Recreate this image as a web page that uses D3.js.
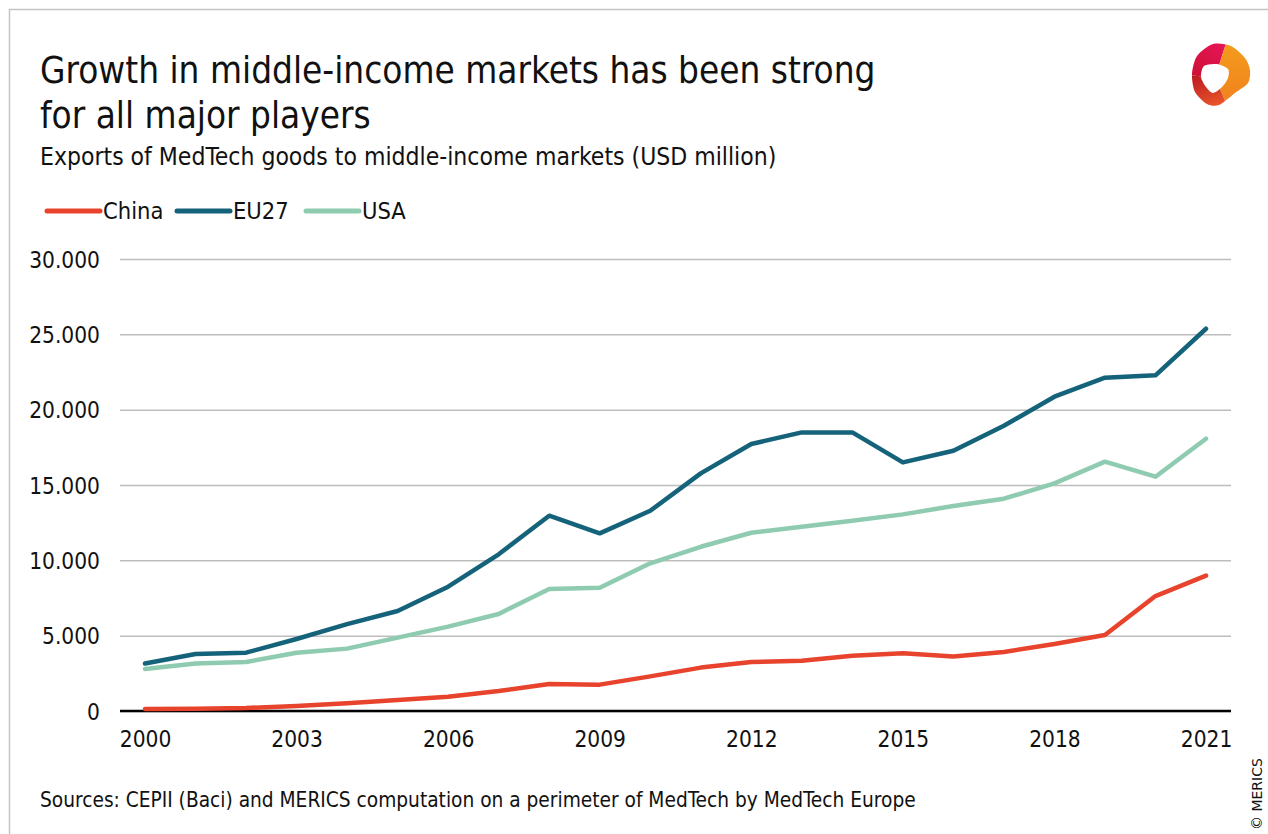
<!DOCTYPE html>
<html><head><meta charset="utf-8">
<script src="https://cdn.jsdelivr.net/npm/d3@7"></script>
<style>
html,body{margin:0;padding:0;background:#fff;}
svg{display:block;}
text{font-family:"Liberation Sans Narrow","DejaVu Sans Condensed","DejaVu Sans",sans-serif;fill:#111;}
</style></head>
<body>
<script>
const years = d3.range(2000, 2022);
const china = [130,150,200,330,510,730,950,1330,1790,1750,2300,2880,3250,3340,3670,3830,3610,3920,4450,5040,7630,8980];
const eu27  = [3150,3780,3870,4780,5770,6640,8250,10400,12960,11790,13290,15770,17720,18490,18490,16500,17270,18930,20860,22120,22280,25370];
const usa   = [2790,3160,3250,3870,4140,4870,5600,6440,8100,8180,9800,10900,11830,12230,12630,13050,13600,14090,15110,16550,15550,18070];
const seriesNames = ["China","EU27","USA"];
const seriesColors = ["#e8432d","#15637a","#8ecbb0"];
const xTicks = [2000,2003,2006,2009,2012,2015,2018,2021];
const yTicks = [0,5000,10000,15000,20000,25000,30000];

const W = 1268, H = 834;
const svg = d3.select("body").append("svg").attr("width", W).attr("height", H);
const defs = svg.append("defs");

// frame
svg.append("path").attr("d", `M9.5,${H} L9.5,9.5 L${W},9.5`).attr("fill","none").attr("stroke","#c4c4c4").attr("stroke-width",1.5);

// titles
svg.append("text").attr("x",40).attr("y",83).style("font-size","36.6px").text("Growth in middle-income markets has been strong");
svg.append("text").attr("x",40).attr("y",128).style("font-size","36.6px").text("for all major players");
svg.append("text").attr("x",40).attr("y",165).style("font-size","24.5px").text("Exports of MedTech goods to middle-income markets (USD million)");

// legend
const legX = [47,177,306];
seriesNames.forEach((n,i)=>{
  svg.append("line").attr("x1",legX[i]).attr("x2",legX[i]+53).attr("y1",211).attr("y2",211)
    .attr("stroke",seriesColors[i]).attr("stroke-width",5).attr("stroke-linecap","round");
  svg.append("text").attr("x",legX[i]+56).attr("y",219).style("font-size","23.5px").text(n);
});

const x = d3.scaleLinear().domain([2000,2021]).range([145,1206]);
const y = d3.scaleLinear().domain([0,30000]).range([711,259]);
const fmt = v => v===0 ? "0" : d3.format(",")(v).replace(/,/g,".");

// grid
const gy = svg.append("g").attr("transform","translate(120,0)")
  .call(d3.axisLeft(y).tickValues(yTicks).tickSize(-1111).tickFormat(fmt));
gy.select(".domain").remove();
gy.selectAll(".tick line").attr("stroke","#bdbdbd").attr("stroke-width",1.5);
gy.selectAll(".tick text").attr("x",-20).attr("dy","0.36em").style("font-size","22.5px").attr("fill","#111");

// x axis
const gx = svg.append("g").attr("transform","translate(0,711)")
  .call(d3.axisBottom(x).tickValues(xTicks).tickSize(0).tickFormat(d3.format("d")));
gx.select(".domain").remove();
gx.selectAll(".tick text").attr("y",20).attr("dy","0.71em").style("font-size","22.5px").attr("fill","#111");
svg.append("line").attr("x1",120).attr("x2",1231).attr("y1",711).attr("y2",711).attr("stroke","#000").attr("stroke-width",2.5);

// lines
const line = d3.line().x((d,i)=>x(years[i])).y(d=>y(d));
[[eu27,1],[usa,2],[china,0]].forEach(([s,idx])=>{
  svg.append("path").datum(s).attr("d",line).attr("fill","none")
    .attr("stroke",seriesColors[idx]).attr("stroke-width",4.5)
    .attr("stroke-linejoin","round").attr("stroke-linecap","round");
});

// source
svg.append("text").attr("x",40).attr("y",807).style("font-size","20.7px").text("Sources: CEPII (Baci) and MERICS computation on a perimeter of MedTech by MedTech Europe");

// copyright
svg.append("text").attr("transform","translate(1262,830) rotate(-90)").style("font-size","14px")
  .style("font-family","'DejaVu Sans','Liberation Sans',sans-serif").text("© MERICS");

// logo
const lg = svg.append("g").attr("transform","translate(1221,74)");
const outer = [[-8,-30],[10,-28],[24,-16],[29,-4],[27,9],[14,19],[-2,31],[-14,30],[-26,18],[-29,0],[-24,-18]];
const hole = [[-17,-8],[-4,-10],[7,-5],[7,4],[1,13],[-8,19],[-15,13],[-20,3]];
const cl = d3.line().curve(d3.curveCardinalClosed.tension(0.2));
defs.append("clipPath").attr("id","ring").append("path")
  .attr("d", cl(outer) + cl(hole.slice().reverse())).attr("clip-rule","evenodd");
const mkGrad=(id,x1,y1,x2,y2,stops)=>{const g=defs.append("linearGradient").attr("id",id)
  .attr("x1",x1).attr("y1",y1).attr("x2",x2).attr("y2",y2);
  stops.forEach(([o,c])=>g.append("stop").attr("offset",o).attr("stop-color",c));};
mkGrad("gTop",0,1,1,0,[[0,"#c8102e"],[1,"#ec1660"]]);
mkGrad("gRight",0,0,0,1,[[0,"#f4a01c"],[1,"#f07d1e"]]);
mkGrad("gLeft",0,0,0.5,1,[[0,"#b3121e"],[1,"#ee5a2c"]]);
const ringG = lg.append("g").attr("clip-path","url(#ring)");
ringG.append("path").attr("d","M-6,4 L-40,0 L-40,-40 L8,-40 Z").attr("fill","url(#gTop)");
ringG.append("path").attr("d","M-6,4 L8,-40 L40,-40 L40,30 L10,40 Z").attr("fill","url(#gRight)");
ringG.append("path").attr("d","M-6,4 L10,40 L-40,40 L-40,0 Z").attr("fill","url(#gLeft)");
</script>
</body></html>
